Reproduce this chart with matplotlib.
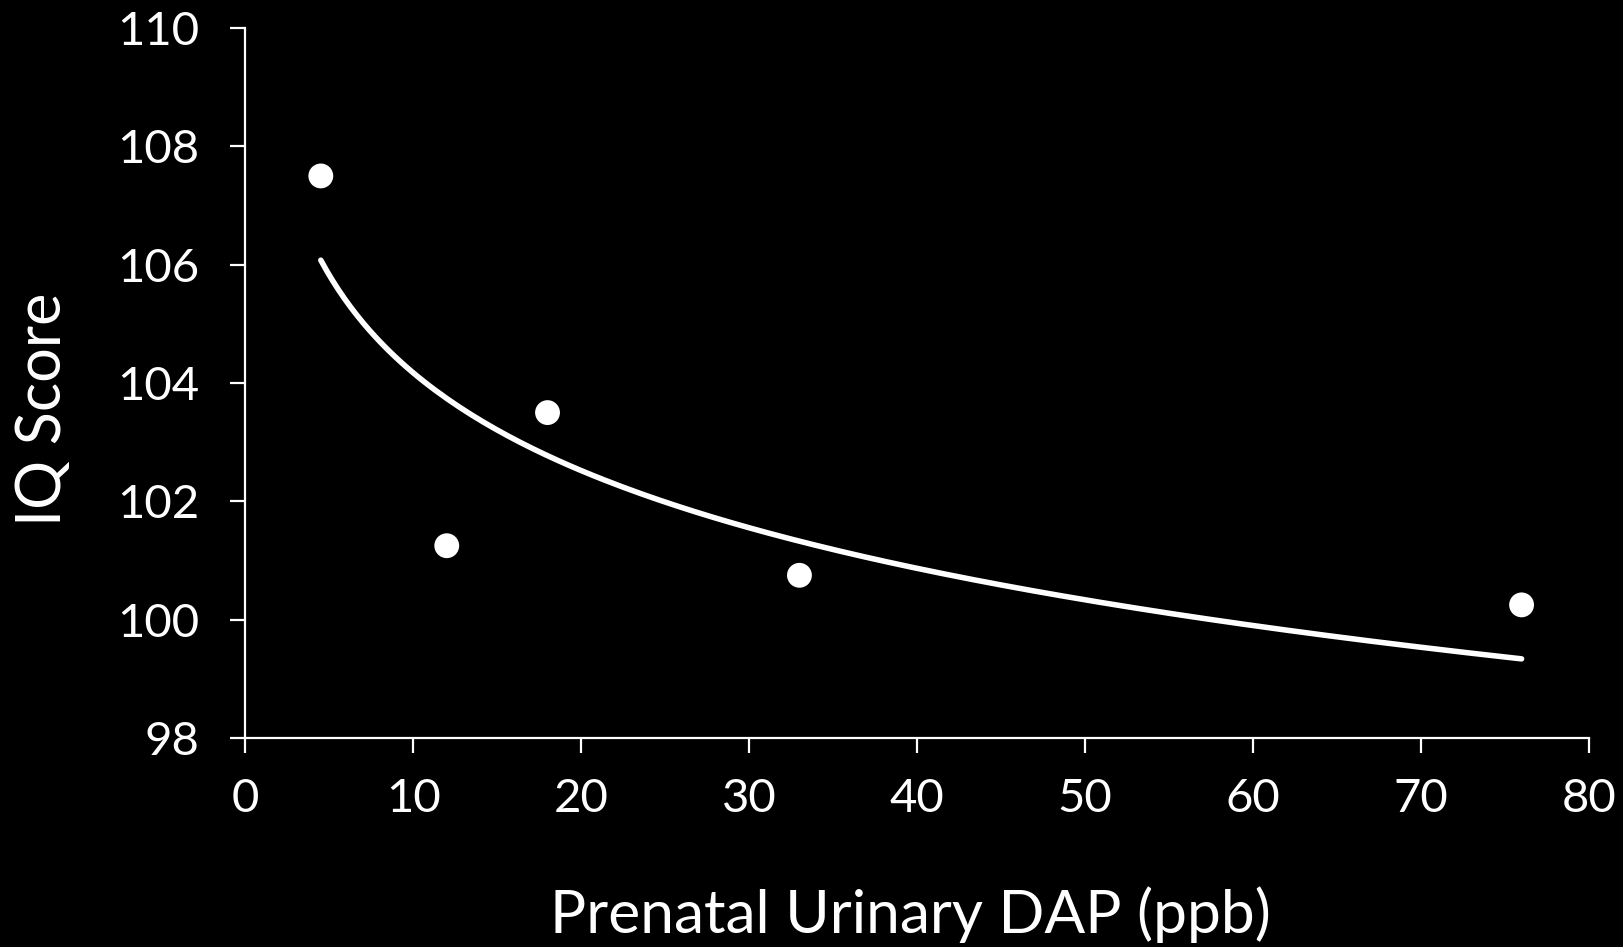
import numpy as np
import matplotlib
matplotlib.use("Agg")
import matplotlib.pyplot as plt

plt.rcParams['font.family'] = ['Lato', 'DejaVu Sans']

# data
dap = [4.5, 12, 18, 33, 76]
iq = [107.5, 101.25, 103.5, 100.75, 100.25]
x_ticks = [0, 10, 20, 30, 40, 50, 60, 70, 80]
y_ticks = [98, 100, 102, 104, 106, 108, 110]

# logarithmic trendline fitted to the points
b, a = np.polyfit(np.log(dap), iq, 1)
x_fit = np.linspace(min(dap), max(dap), 200)
y_fit = a + b*np.log(x_fit)

fig = plt.figure(figsize=(16.23, 9.47), dpi=100, facecolor='black')
ax = fig.add_axes([0.1511, 0.2207, 0.8278, 0.7497])
ax.set_facecolor('black')

ax.plot(x_fit, y_fit, color='white', lw=4, solid_capstyle='round')
ax.scatter(dap, iq, s=320, color='white', zorder=3, edgecolors='none')

ax.set_xlim(0, 80)
ax.set_ylim(98, 110)
ax.set_xticks(x_ticks)
ax.set_yticks(y_ticks)

for s in ['top', 'right']:
    ax.spines[s].set_visible(False)
for s in ['left', 'bottom']:
    ax.spines[s].set_color('white')
    ax.spines[s].set_linewidth(1.6)

ax.tick_params(colors='white', length=11, width=1.6, labelsize=34, direction='out')
ax.tick_params(axis='x', pad=18)
ax.tick_params(axis='y', pad=22)

fig.text(0.561, 0.015, 'Prenatal Urinary DAP (ppb)', color='white', fontsize=43.5,
         ha='center', va='baseline')
fig.text(0.027, 0.568, 'IQ Score', color='white', fontsize=44, rotation=90,
         ha='center', va='center')

fig.savefig('out.png', dpi=100, facecolor='black')
